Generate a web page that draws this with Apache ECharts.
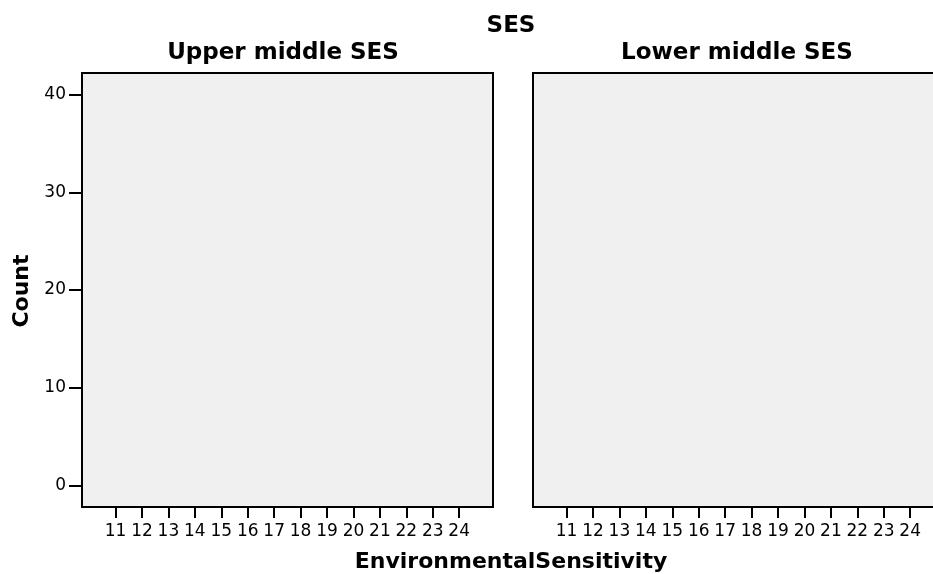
<!DOCTYPE html>
<html>
<head>
<meta charset="utf-8">
<style>
  html, body { margin: 0; padding: 0; background: #ffffff; }
  #chart { width: 933px; height: 574px; }
</style>
<script src="https://cdn.jsdelivr.net/npm/echarts@6/dist/echarts.min.js"></script>
</head>
<body>
<div id="chart"></div>
<script>
// ---- data ----
var panelTitles = ['Upper middle SES', 'Lower middle SES'];
var xTicks = [11, 12, 13, 14, 15, 16, 17, 18, 19, 20, 21, 22, 23, 24];
var yTicks = [0, 10, 20, 30, 40];
// counts per EnvironmentalSensitivity score (no visible bars in the reference)
var upperCounts = [0, 0, 0, 0, 0, 0, 0, 0, 0, 0, 0, 0, 0, 0];
var lowerCounts = [0, 0, 0, 0, 0, 0, 0, 0, 0, 0, 0, 0, 0, 0];

var FONT = 'DejaVu Sans';
var chart = echarts.init(document.getElementById('chart'), null, { renderer: 'canvas' });

function pairs(vals) {
  return xTicks.map(function (x, i) { return [x, vals[i]]; });
}

function xAxisFor(idx) {
  return {
    type: 'value', gridIndex: idx, min: 9.73, max: 25.28,
    splitLine: { show: false },
    axisLine: { show: false, onZero: false },
    axisTick: { show: true, customValues: xTicks, length: 11, inside: false,
                lineStyle: { color: '#000', width: 2 } },
    axisLabel: { show: true, customValues: xTicks, margin: 16, color: '#000',
                 fontFamily: FONT, fontSize: 17 }
  };
}

var option = {
  backgroundColor: '#ffffff',
  animation: false,
  grid: [
    { left: 82, top: 73, width: 411, height: 434, show: true, outerBoundsMode: 'none',
      backgroundColor: '#f0f0f0', borderColor: '#000', borderWidth: 2 },
    { left: 533, top: 73, width: 411, height: 434, show: true, outerBoundsMode: 'none',
      backgroundColor: '#f0f0f0', borderColor: '#000', borderWidth: 2 }
  ],
  xAxis: [xAxisFor(0), xAxisFor(1)],
  yAxis: [
    { type: 'value', gridIndex: 0, min: -2.2, max: 42.2,
      splitLine: { show: false }, axisLine: { show: false, onZero: false },
      axisTick: { show: true, customValues: yTicks, length: 13,
                  lineStyle: { color: '#000', width: 2 } },
      axisLabel: { show: true, customValues: yTicks, margin: 16, color: '#000',
                   fontFamily: FONT, fontSize: 17 } },
    { type: 'value', gridIndex: 1, min: -2.2, max: 42.2,
      splitLine: { show: false }, axisLine: { show: false, onZero: false },
      axisTick: { show: false }, axisLabel: { show: false } }
  ],
  series: [
    { type: 'bar', xAxisIndex: 0, yAxisIndex: 0, data: pairs(upperCounts),
      barWidth: 20, itemStyle: { color: '#3e58ac' } },
    { type: 'bar', xAxisIndex: 1, yAxisIndex: 1, data: pairs(lowerCounts),
      barWidth: 20, itemStyle: { color: '#3e58ac' } }
  ],
  graphic: [
    { type: 'text', x: 511, y: 26, style: { text: 'SES', textAlign: 'center', textVerticalAlign: 'middle',
      fontFamily: FONT, fontWeight: 'bold', fontSize: 23, fill: '#000' } },
    { type: 'text', x: 283, y: 53, style: { text: panelTitles[0], textAlign: 'center', textVerticalAlign: 'middle',
      fontFamily: FONT, fontWeight: 'bold', fontSize: 23, fill: '#000' } },
    { type: 'text', x: 737, y: 53, style: { text: panelTitles[1], textAlign: 'center', textVerticalAlign: 'middle',
      fontFamily: FONT, fontWeight: 'bold', fontSize: 23, fill: '#000' } },
    { type: 'text', x: 511, y: 562, style: { text: 'EnvironmentalSensitivity', textAlign: 'center', textVerticalAlign: 'middle',
      fontFamily: FONT, fontWeight: 'bold', fontSize: 22, fill: '#000' } },
    { type: 'text', x: 22, y: 291, rotation: Math.PI / 2, style: { text: 'Count', textAlign: 'center', textVerticalAlign: 'middle',
      fontFamily: FONT, fontWeight: 'bold', fontSize: 22, fill: '#000' } }
  ]
};
chart.setOption(option);
</script>
</body>
</html>
